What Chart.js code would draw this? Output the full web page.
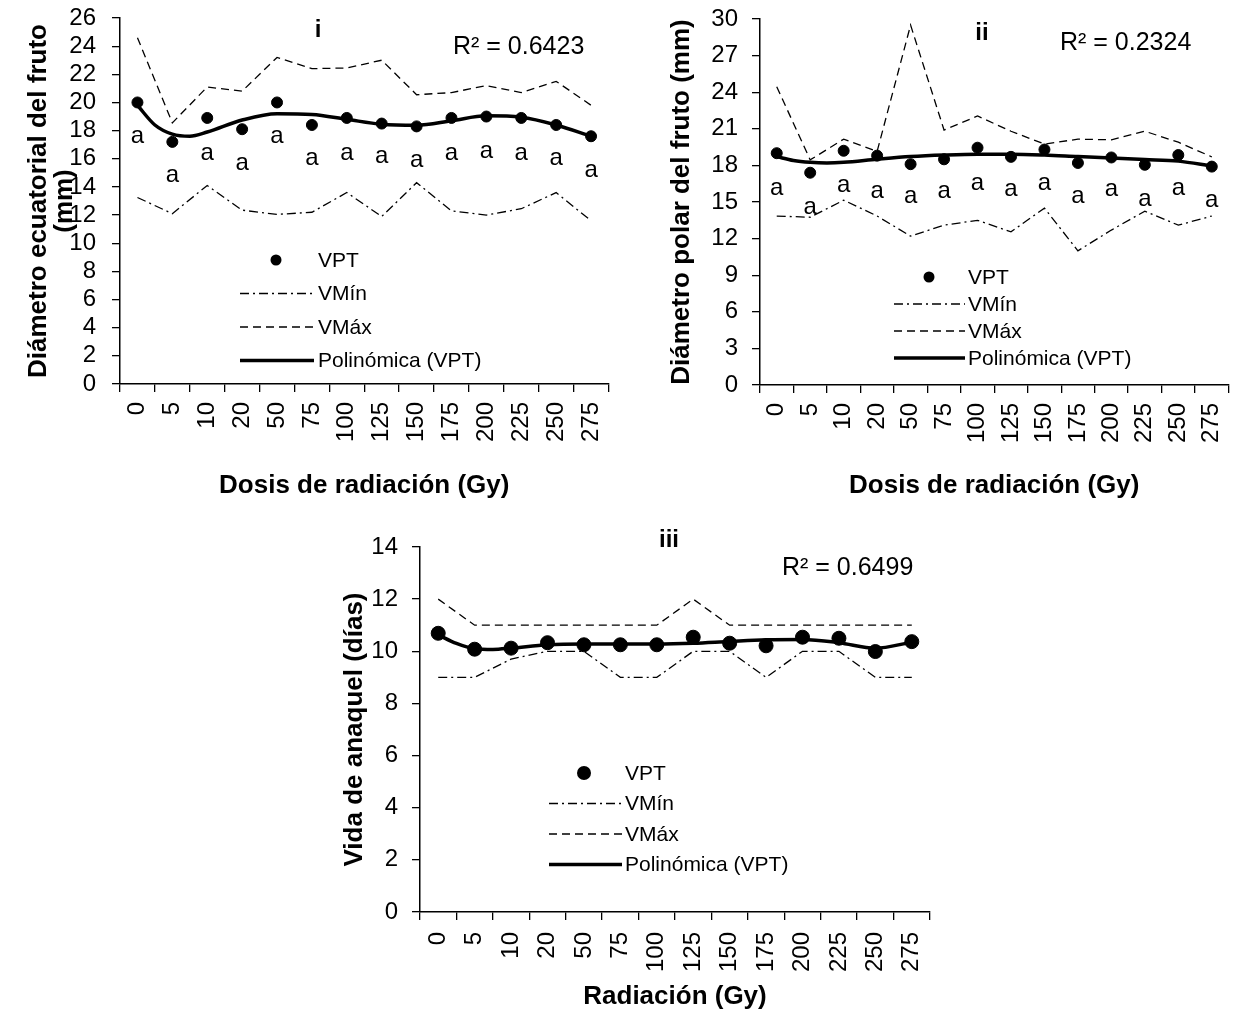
<!DOCTYPE html>
<html>
<head>
<meta charset="utf-8">
<script src="https://cdn.jsdelivr.net/npm/chart.js@4.4.1/dist/chart.umd.min.js"></script>
<style>
  html, body { margin: 0; padding: 0; background: #fff; }
  body { width: 1235px; height: 1012px; position: relative; overflow: hidden; }
  .box { position: absolute; }
  #boxA { left: 0; top: 0; width: 615px; height: 510px; }
  #boxB { left: 615px; top: 0; width: 620px; height: 510px; }
  #boxC { left: 300px; top: 520px; width: 640px; height: 492px; }
</style>
</head>
<body>
<div class="box" id="boxA"><canvas id="chartA"></canvas></div>
<div class="box" id="boxB"><canvas id="chartB"></canvas></div>
<div class="box" id="boxC"><canvas id="chartC"></canvas></div>
<script>
// doses (Gy)
const doses = ['0', '5', '10', '20', '50', '75', '100', '125', '150', '175', '200', '225', '250', '275'];

// i - diametro ecuatorial
const ecuVPT = [20.0, 17.2, 18.9, 18.1, 20.0, 18.4, 18.9, 18.5, 18.3, 18.9, 19.0, 18.9, 18.4, 17.6];
const ecuMin = [13.25, 12.1, 14.1, 12.35, 12.05, 12.2, 13.6, 11.9, 14.3, 12.3, 12.0, 12.45, 13.6, 11.6];
const ecuMax = [24.6, 18.55, 21.1, 20.8, 23.2, 22.4, 22.45, 23.0, 20.55, 20.7, 21.2, 20.7, 21.5, 19.8];
const ecuTrendX = [0, 0.5, 1, 1.5, 2, 3, 4, 5, 6, 7, 8, 9, 10, 11, 12, 13];
const ecuTrendY = [19.8, 18.4, 17.75, 17.6, 17.9, 18.75, 19.2, 19.15, 18.8, 18.45, 18.38, 18.7, 19.05, 18.95, 18.4, 17.6];
const ecuLetters = ['a', 'a', 'a', 'a', 'a', 'a', 'a', 'a', 'a', 'a', 'a', 'a', 'a', 'a'];
const ecuLetterY = [17.6, 14.85, 16.4, 15.7, 17.6, 16.0, 16.4, 16.15, 15.9, 16.4, 16.5, 16.4, 16.05, 15.2];

// ii - diametro polar
const polVPT = [19.0, 17.4, 19.2, 18.8, 18.1, 18.5, 19.45, 18.7, 19.3, 18.2, 18.65, 18.05, 18.85, 17.9];
const polMin = [13.85, 13.75, 15.15, 13.85, 12.2, 13.1, 13.5, 12.55, 14.5, 11.0, 12.7, 14.25, 13.1, 13.85];
const polMax = [24.45, 18.45, 20.15, 19.15, 29.5, 20.9, 22.05, 20.8, 19.75, 20.15, 20.1, 20.8, 19.9, 18.7];
const polTrendX = [0, 0.5, 1, 1.5, 2, 3, 4, 5, 6, 7, 8, 9, 10, 11, 12, 13];
const polTrendY = [18.72, 18.4, 18.25, 18.2, 18.25, 18.5, 18.72, 18.85, 18.92, 18.92, 18.85, 18.72, 18.6, 18.48, 18.35, 17.95];
const polLetters = ['a', 'a', 'a', 'a', 'a', 'a', 'a', 'a', 'a', 'a', 'a', 'a', 'a', 'a'];
const polLetterY = [16.1, 14.6, 16.4, 15.85, 15.45, 15.85, 16.55, 16.0, 16.55, 15.45, 16.0, 15.2, 16.1, 15.15];

// iii - vida de anaquel
const vidaVPT = [10.69, 10.08, 10.12, 10.33, 10.25, 10.25, 10.25, 10.54, 10.31, 10.21, 10.54, 10.5, 9.99, 10.37];
const vidaMin = [9, 9, 9.7, 10, 10, 9, 9, 10, 10, 9, 10, 10, 9, 9];
const vidaMax = [12, 11, 11, 11, 11, 11, 11, 12, 11, 11, 11, 11, 11, 11];
const vidaTrendX = [0, 0.5, 1, 1.5, 2, 3, 4, 5, 6, 7, 8, 9, 10, 11, 12, 13];
const vidaTrendY = [10.63, 10.3, 10.1, 10.07, 10.12, 10.25, 10.28, 10.28, 10.28, 10.31, 10.38, 10.44, 10.45, 10.33, 10.12, 10.35];

const FONT = "'Liberation Sans', Arial, sans-serif";
const BLACK = '#000';
const DASH_MAX = [8, 5];
const DASH_MIN = [9, 4, 2, 4];

// letters, R2, panel tag and legend drawn inside the plot
const annotatePlugin = {
  id: 'annotate',
  afterDatasetsDraw(chart, args, opts) {
    const ctx = chart.ctx;
    const a = chart.chartArea;
    const x = chart.scales.x, y = chart.scales.y;
    ctx.save();
    ctx.fillStyle = BLACK;
    ctx.strokeStyle = BLACK;

    if (opts.letters) {
      ctx.font = '24px ' + FONT;
      ctx.textAlign = 'center';
      ctx.textBaseline = 'middle';
      opts.letters.forEach((t, i) => {
        ctx.fillText(t, x.getPixelForValue(i), y.getPixelForValue(opts.letterY[i]));
      });
    }

    ctx.font = 'bold 24px ' + FONT;
    ctx.textAlign = 'center';
    ctx.textBaseline = 'middle';
    ctx.fillText(opts.tag, a.left + opts.tagPos[0], a.top + opts.tagPos[1]);

    ctx.font = '25px ' + FONT;
    ctx.textAlign = 'left';
    ctx.fillText(opts.r2, a.left + opts.r2Pos[0], a.top + opts.r2Pos[1]);

    // legend
    const lg = opts.legend;
    ctx.font = '21px ' + FONT;
    const rows = [
      {label: 'VPT', kind: 'dot'},
      {label: 'VMín', kind: 'line', dash: DASH_MIN, w: 1.3},
      {label: 'VMáx', kind: 'line', dash: DASH_MAX, w: 1.3},
      {label: 'Polinómica (VPT)', kind: 'line', dash: [], w: 3.5}
    ];
    rows.forEach((r, i) => {
      const yy = a.top + lg.y0 + i * lg.dy;
      if (r.kind === 'dot') {
        ctx.beginPath();
        ctx.arc(a.left + lg.dotX, yy, lg.r, 0, Math.PI * 2);
        ctx.fill();
      } else {
        ctx.beginPath();
        ctx.setLineDash(r.dash);
        ctx.lineWidth = r.w;
        ctx.moveTo(a.left + lg.x1, yy);
        ctx.lineTo(a.left + lg.x2, yy);
        ctx.stroke();
        ctx.setLineDash([]);
      }
      ctx.fillText(r.label, a.left + lg.textX, yy + 1);
    });
    ctx.restore();
  }
};

function makeChart(id, p) {
  const fixedY = p.yWidth, fixedX = p.xHeight;
  return new Chart(document.getElementById(id), {
    type: 'line',
    data: {
      labels: doses,
      datasets: [
        {
          label: 'VPT', data: p.vpt, showLine: false,
          pointRadius: p.r, pointHoverRadius: p.r,
          pointBackgroundColor: BLACK, pointBorderColor: BLACK, borderColor: BLACK
        },
        {
          label: 'Polinómica (VPT)', xAxisID: 'xt',
          data: p.trendX.map((v, i) => ({x: v, y: p.trendY[i]})),
          borderColor: BLACK, borderWidth: 3.5, pointRadius: 0,
          cubicInterpolationMode: 'monotone'
        },
        {
          label: 'VMín', data: p.min, borderColor: BLACK, borderWidth: 1.3,
          borderDash: DASH_MIN, pointRadius: 0, tension: 0
        },
        {
          label: 'VMáx', data: p.max, borderColor: BLACK, borderWidth: 1.3,
          borderDash: DASH_MAX, pointRadius: 0, tension: 0
        }
      ]
    },
    options: {
      responsive: true,
      maintainAspectRatio: false,
      animation: false,
      layout: { padding: p.pad },
      plugins: {
        legend: { display: false },
        tooltip: { enabled: false },
        annotate: p.notes
      },
      scales: {
        x: {
          type: 'category',
          offset: true,
          grid: { offset: true, drawOnChartArea: false, drawTicks: true, tickLength: 8, color: BLACK, lineWidth: 1.3 },
          border: { display: true, color: BLACK, width: 1.5 },
          ticks: { autoSkip: false, maxRotation: 90, minRotation: 90, padding: p.xPad, color: BLACK, font: { family: FONT, size: 24 } },
          title: { display: true, text: p.xTitle, color: BLACK, padding: { top: 0, bottom: p.xTitlePad }, font: { family: FONT, size: 26, weight: 'bold', lineHeight: 1.2 } },
          afterFit(s) { s.height = fixedX; s.paddingLeft = 0; s.paddingRight = 0; }
        },
        xt: { type: 'linear', display: false, min: -0.5, max: 13.5 },
        y: {
          min: 0, max: p.yMax,
          grid: { drawOnChartArea: false, drawTicks: true, tickLength: 8, color: BLACK, lineWidth: 1.3 },
          border: { display: true, color: BLACK, width: 1.5 },
          ticks: { autoSkip: false, stepSize: p.step, padding: p.yPad, color: BLACK, font: { family: FONT, size: 24 } },
          title: { display: true, text: p.yTitle, color: BLACK, padding: { top: p.yTitlePad, bottom: 0 }, font: { family: FONT, size: 26, weight: 'bold', lineHeight: 1.0 } },
          afterFit(s) { s.width = fixedY; s.paddingTop = 0; s.paddingBottom = 0; }
        }
      }
    },
    plugins: [annotatePlugin]
  });
}

makeChart('chartA', {
  vpt: ecuVPT, min: ecuMin, max: ecuMax, trendX: ecuTrendX, trendY: ecuTrendY,
  yMax: 26, step: 2, r: 5.5,
  yTitle: ['Diámetro ecuatorial del fruto', '(mm)'], xTitle: 'Dosis de radiación (Gy)',
  yWidth: 120, xHeight: 126, pad: { top: 18, right: 6, bottom: 0, left: 0 },
  xPad: 10, xTitlePad: 9, yTitlePad: 26, yPad: 16,
  notes: {
    letters: ecuLetters, letterY: ecuLetterY,
    tag: 'i', tagPos: [198, 12], r2: 'R² = 0.6423', r2Pos: [333, 29],
    legend: { dotX: 156, r: 5.5, x1: 120, x2: 194, textX: 198, y0: 242, dy: 33.5 }
  }
});

makeChart('chartB', {
  vpt: polVPT, min: polMin, max: polMax, trendX: polTrendX, trendY: polTrendY,
  yMax: 30, step: 3, r: 5.5,
  yTitle: 'Diámetro polar del fruto (mm)', xTitle: 'Dosis de radiación (Gy)',
  yWidth: 145, xHeight: 125, pad: { top: 19, right: 3, bottom: 0, left: 0 },
  xPad: 10, xTitlePad: 9, yTitlePad: 54, yPad: 14,
  notes: {
    letters: polLetters, letterY: polLetterY,
    tag: 'ii', tagPos: [222, 14], r2: 'R² = 0.2324', r2Pos: [300, 24],
    legend: { dotX: 169, r: 5.5, x1: 134, x2: 205, textX: 208, y0: 258, dy: 27 }
  }
});

makeChart('chartC', {
  vpt: vidaVPT, min: vidaMin, max: vidaMax, trendX: vidaTrendX, trendY: vidaTrendY,
  yMax: 14, step: 2, r: 7,
  yTitle: 'Vida de anaquel (días)', xTitle: 'Radiación (Gy)',
  yWidth: 120, xHeight: 100, pad: { top: 27, right: 10, bottom: 0, left: 0 },
  xPad: 12, xTitlePad: 0, yTitlePad: 42, yPad: 14,
  notes: {
    tag: 'iii', tagPos: [249, -7], r2: 'R² = 0.6499', r2Pos: [362, 21],
    legend: { dotX: 164, r: 7, x1: 129, x2: 202, textX: 205, y0: 226, dy: 30.5 }
  }
});
</script>
</body>
</html>
